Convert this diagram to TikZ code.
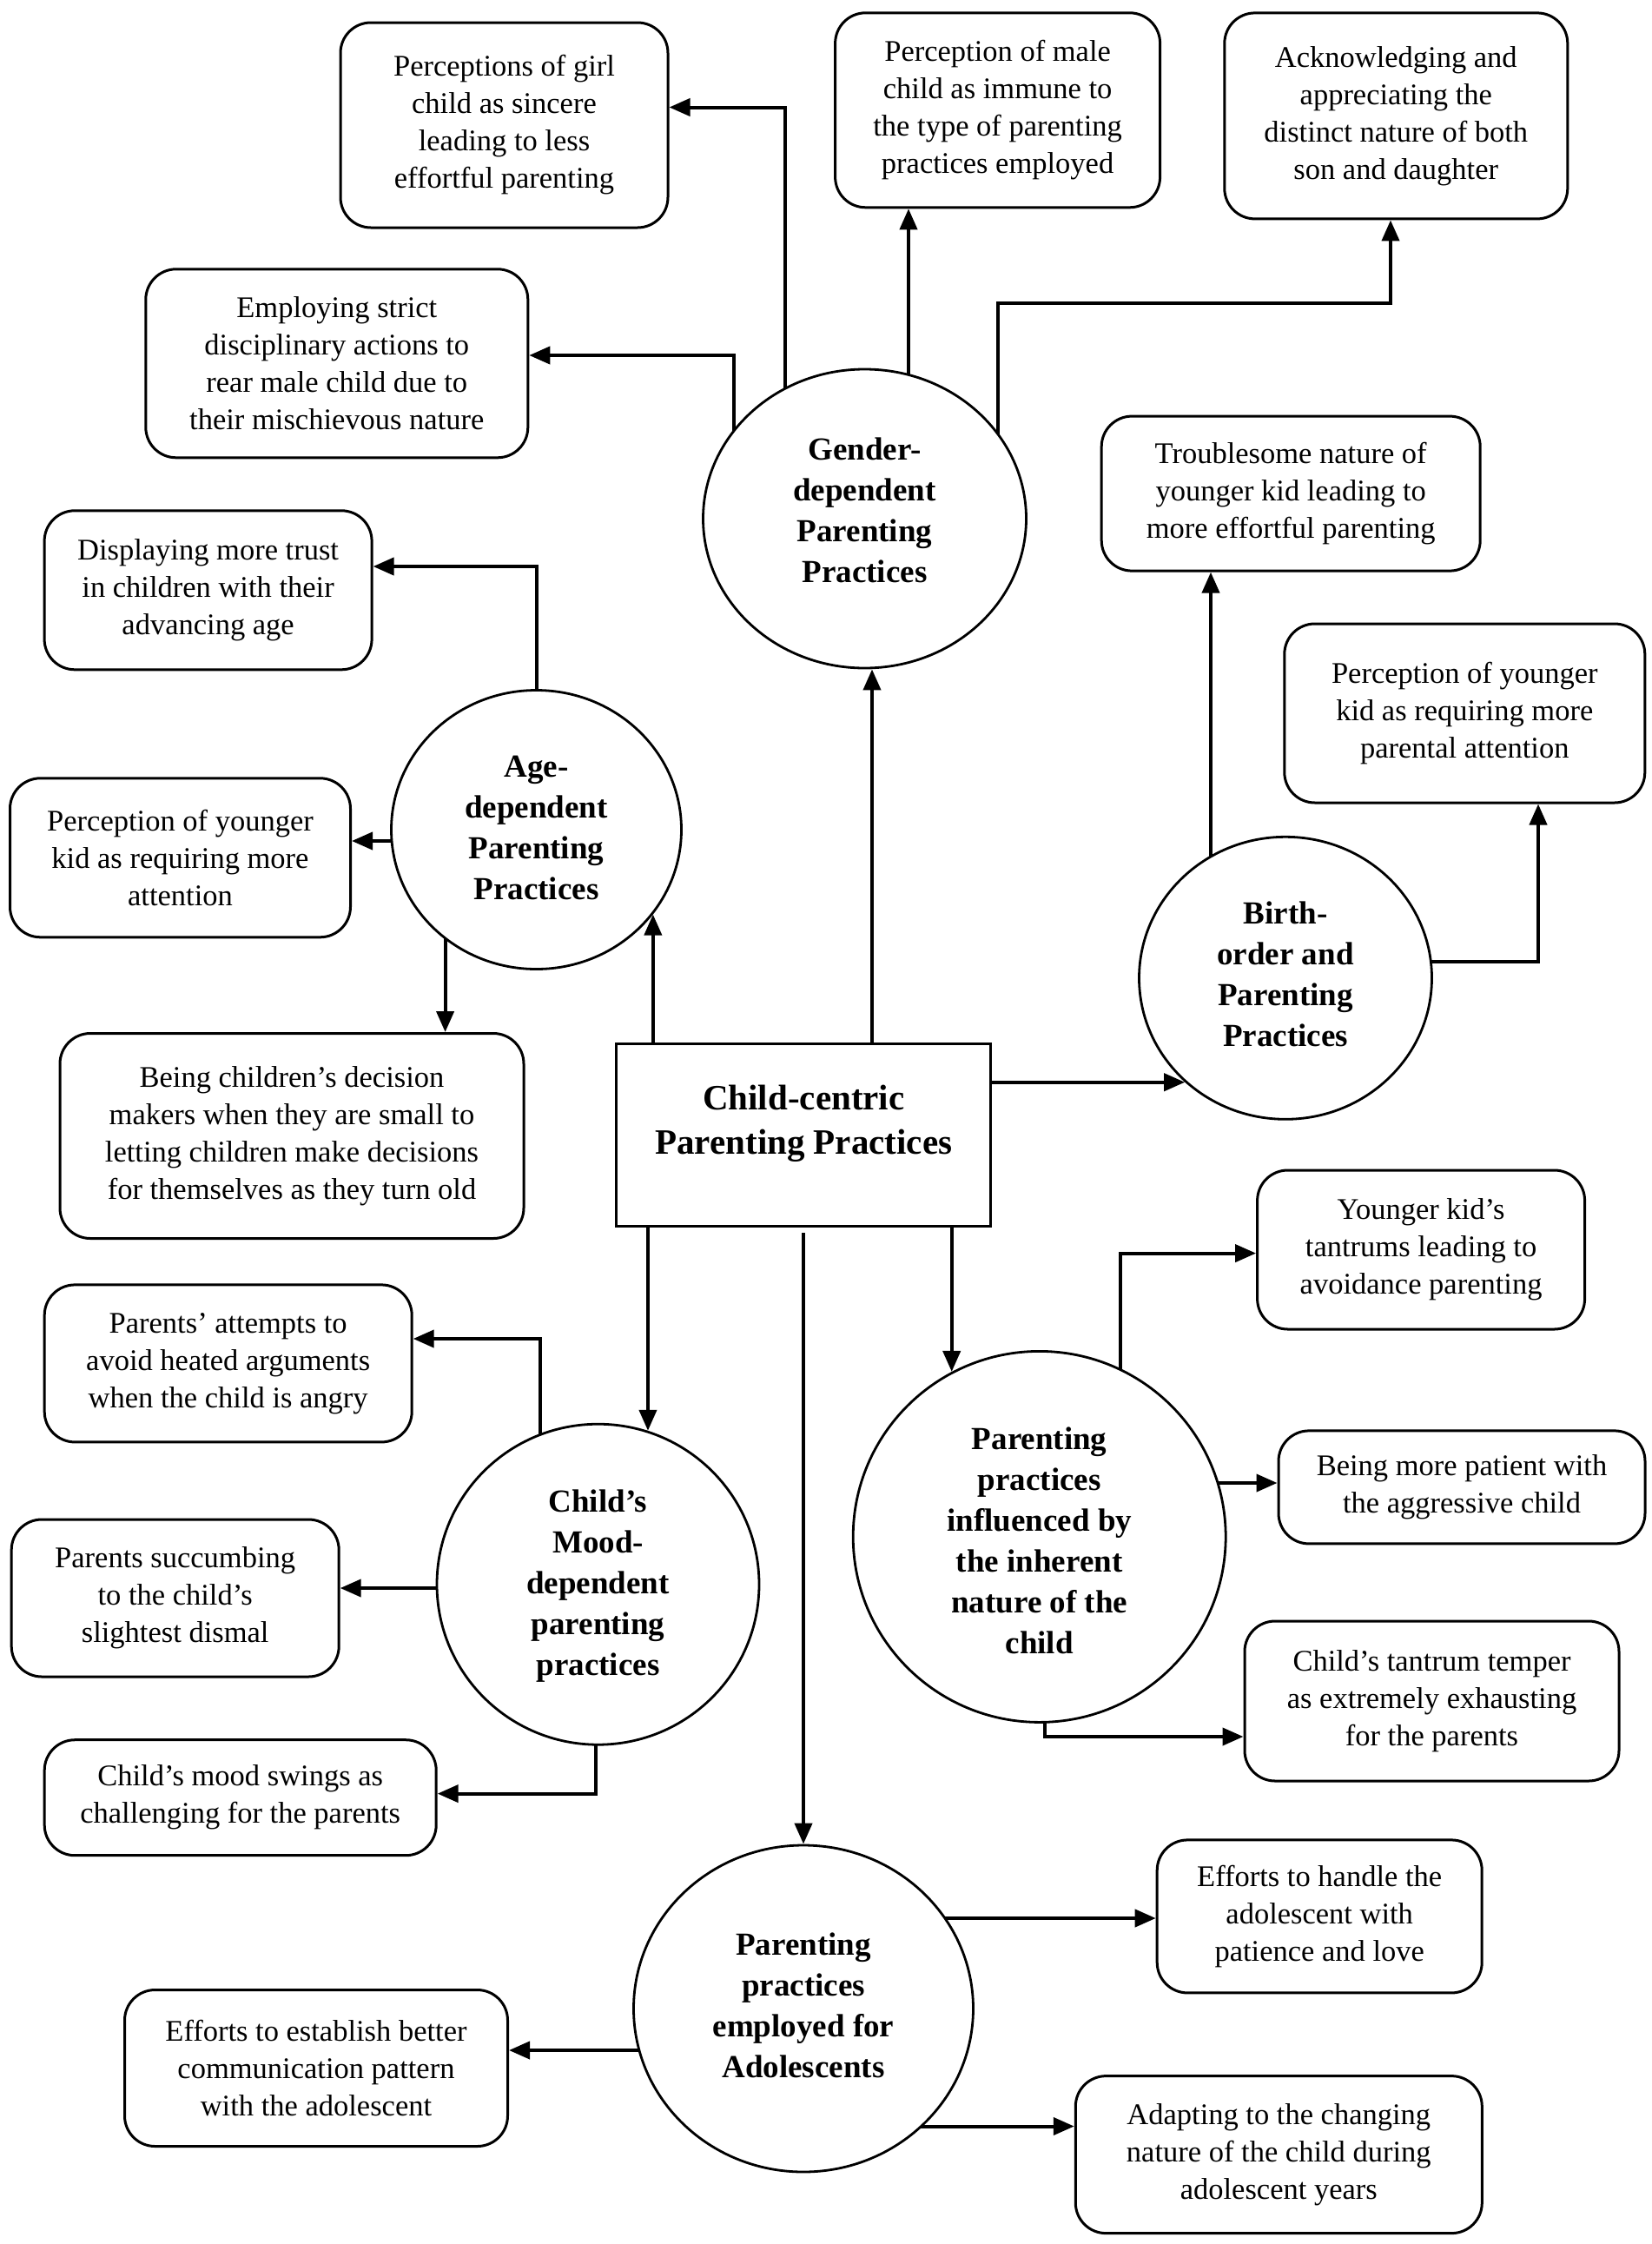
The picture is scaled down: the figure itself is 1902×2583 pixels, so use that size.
\documentclass[tikz,border=0pt]{standalone}
\usepackage{fontspec}
\setmainfont{Liberation Serif}
\usetikzlibrary{shapes.geometric,arrows.meta,backgrounds}
\newcommand{\bxfont}{\fontsize{34.5}{43}\selectfont}
\newcommand{\crfont}{\fontsize{37}{47}\selectfont\bfseries}
\newcommand{\ccfont}{\fontsize{41}{50.5}\selectfont\bfseries}
\begin{document}
\begin{tikzpicture}[x=1pt,y=-1pt,
  box/.style={draw, line width=3pt, rounded corners=35pt, fill=white, align=center, inner sep=0pt, font=\bxfont},
  circ/.style={draw, ellipse, line width=2.8pt, fill=white, inner sep=0pt},
  ctext/.style={align=center, inner sep=0pt, font=\crfont},
  conn/.style={line width=4pt, -{Triangle[length=24pt,width=20pt]}}]
\useasboundingbox (0,0) rectangle (1902,2583);

% central box
\node[draw, line width=3pt, fill=white, minimum width=431pt, minimum height=210pt, inner sep=0pt] (cc) at (925.3,1306.5) {};
\node[align=center, inner sep=0pt, font=\ccfont] (cctext) at (925.3,1293.3) {Child-centric\\Parenting Practices};

% circles
\node[circ, minimum width=372pt, minimum height=344pt] (gen) at (995.5,597) {};
\node[ctext] (gent) at (995.5,587) {Gender-\\dependent\\Parenting\\Practices};
\node[circ, minimum width=334pt, minimum height=321pt] (age) at (617.5,955) {};
\node[ctext] (aget) at (617.5,952.5) {Age-\\dependent\\Parenting\\Practices};
\node[circ, minimum width=337pt, minimum height=325pt] (birth) at (1480,1125.8) {};
\node[ctext] (birtht) at (1480,1121.7) {Birth-\\order and\\Parenting\\Practices};
\node[circ, minimum width=371pt, minimum height=369pt] (mood) at (688.5,1823.7) {};
\node[ctext] (moodt) at (688.5,1826) {Child’s\\Mood-\\dependent\\parenting\\practices};
\node[circ, minimum width=429pt, minimum height=427pt] (inh) at (1196.7,1768.9) {};
\node[ctext] (inht) at (1196.7,1773.5) {Parenting\\practices\\influenced by\\the inherent\\nature of the\\child};
\node[circ, minimum width=391pt, minimum height=376pt] (adol) at (925,2312) {};
\node[ctext] (adolt) at (925,2308.7) {Parenting\\practices\\employed for\\Adolescents};

% boxes
\node[box, minimum width=377pt, minimum height=236pt] (b1) at (580.5,144) {Perceptions of girl\\child as sincere\\leading to less\\effortful parenting};
\node[box, minimum width=374pt, minimum height=224pt] (b2) at (1148.6,126.8) {Perception of male\\child as immune to\\the type of parenting\\practices employed};
\node[box, minimum width=395pt, minimum height=237pt] (b3) at (1607.3,133.4) {Acknowledging and\\appreciating the\\distinct nature of both\\son and daughter};
\node[box, minimum width=440pt, minimum height=217pt] (b4) at (387.8,418.3) {Employing strict\\disciplinary actions to\\rear male child due to\\their mischievous nature};
\node[box, minimum width=436pt, minimum height=178pt] (b5) at (1486.2,568.1) {Troublesome nature of\\younger kid leading to\\more effortful parenting};
\node[box, minimum width=415pt, minimum height=206pt] (b6) at (1686.3,821) {Perception of younger\\kid as requiring more\\parental attention};
\node[box, minimum width=377pt, minimum height=183pt] (b7) at (239.6,679.3) {Displaying more trust\\in children with their\\advancing age};
\node[box, minimum width=392pt, minimum height=183pt] (b8) at (207.5,987.3) {Perception of younger\\kid as requiring more\\attention};
\node[box, minimum width=534pt, minimum height=236pt] (b9) at (336,1307.5) {Being children’s decision\\makers when they are small to\\letting children make decisions\\for themselves as they turn old};
\node[box, minimum width=377pt, minimum height=183pt] (b10) at (1636.1,1438.5) {Younger kid’s\\tantrums leading to\\avoidance parenting};
\node[box, minimum width=423pt, minimum height=181pt] (b11) at (262.7,1569.4) {Parents’ attempts to\\avoid heated arguments\\when the child is angry};
\node[box, minimum width=422pt, minimum height=130pt] (b12) at (1683,1711.9) {Being more patient with\\the aggressive child};
\node[box, minimum width=377pt, minimum height=181pt] (b13) at (201.7,1839.5) {Parents succumbing\\to the child’s\\slightest dismal};
\node[box, minimum width=431pt, minimum height=184pt] (b14) at (1648.5,1958) {Child’s tantrum temper\\as extremely exhausting\\for the parents};
\node[box, minimum width=451pt, minimum height=133pt] (b15) at (276.7,2069.2) {Child’s mood swings as\\challenging for the parents};
\node[box, minimum width=374pt, minimum height=176pt] (b16) at (1519.2,2205.9) {Efforts to handle the\\adolescent with\\patience and love};
\node[box, minimum width=441pt, minimum height=180pt] (b17) at (364,2380.5) {Efforts to establish better\\communication pattern\\with the adolescent};
\node[box, minimum width=468pt, minimum height=181pt] (b18) at (1472.3,2480.1) {Adapting to the changing\\nature of the child during\\adolescent years};

\begin{scope}[on background layer]
\fill[white] (0,0) rectangle (1902,2583);
% from the central box
\draw[conn] (cc.north -| 1004,0) -- (gen.south -| 1004,0);
\draw[conn] (cc.north -| age.-36) -- (age.-36);
\draw[conn] (cc.east |- birth.-134) -- (birth.-134);
\draw[conn] (cc.south -| mood.72) -- (mood.72);
\draw[conn] (cc.south -| adol.north) ++(0,6) -- (adol.north);
\draw[conn] (cc.south -| inh.118) -- (inh.118);
% gender
\draw[conn] (gen.center -| 904,0) |- (b1.east |- 0,123.5);
\draw[conn] (gen.center -| 845,0) |- (b4.east |- 0,409);
\draw[conn] (gen.center -| 1046,0) -- (b2.south -| 1046,0);
\draw[conn] (gen.center -| 1149,0) |- (1601,349) -- (b3.south -| 1601,0);
% age
\draw[conn] (age.center) |- (b7.east |- 0,652);
\draw[conn] (age.center |- 0,968) -- (b8.east |- 0,968);
\draw[conn] (age.center -| 512.6,0) -- (b9.north -| 512.6,0);
% birth order
\draw[conn] (birth.center -| 1394,0) -- (b5.south -| 1394,0);
\draw[conn] (birth.center |- 0,1107) -| (b6.south -| 1771,0);
% mood
\draw[conn] (mood.center -| 622,0) |- (b11.east |- 0,1541);
\draw[conn] (mood.center |- 0,1828) -- (b13.east |- 0,1828);
\draw[conn] (mood.center -| 686,0) |- (b15.east |- 0,2064.6);
% inherent nature
\draw[conn] (inh.center -| 1290,0) |- (b10.west |- 0,1442.6);
\draw[conn] (inh.center |- 0,1707) -- (b12.west |- 0,1707);
\draw[conn] (inh.center -| 1202.6,0) |- (b14.west |- 0,1999);
% adolescents
\draw[conn] (adol.center |- 0,2208) -- (b16.west |- 0,2208);
\draw[conn] (adol.center |- 0,2360) -- (b17.east |- 0,2360);
\draw[conn] (adol.center |- 0,2447.5) -- (b18.west |- 0,2447.5);
\end{scope}
\end{tikzpicture}
\end{document}
